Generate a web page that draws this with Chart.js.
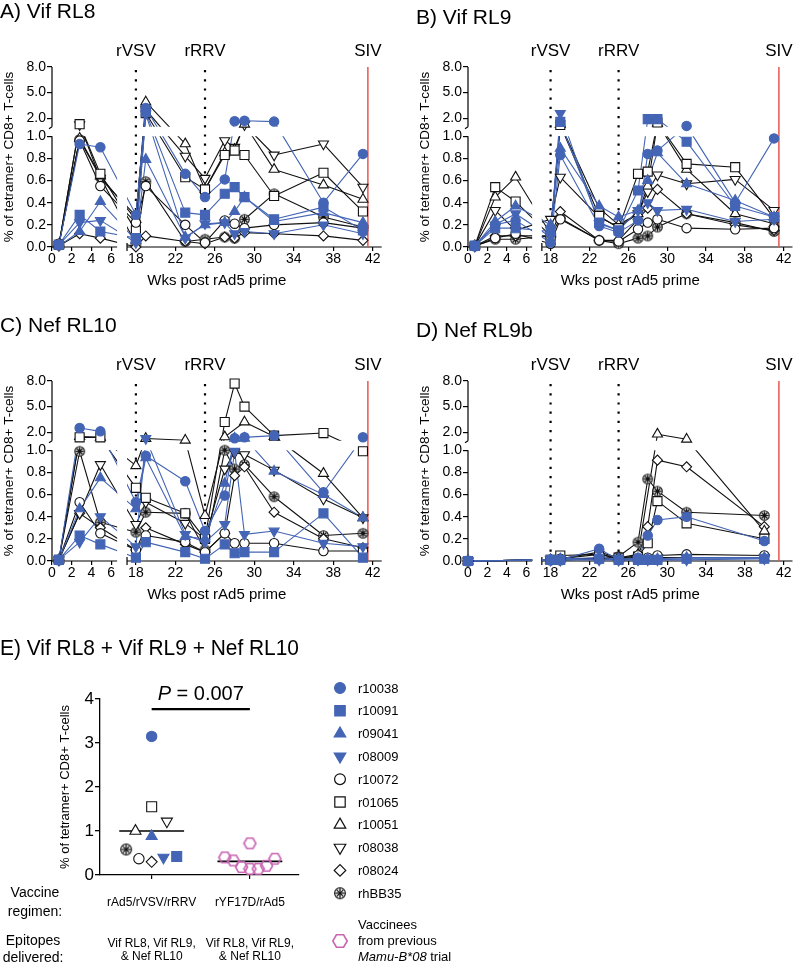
<!DOCTYPE html>
<html><head><meta charset="utf-8">
<script src="https://cdn.jsdelivr.net/npm/chart.js@4.4.1/dist/chart.umd.min.js"></script>
<style>
html,body{margin:0;padding:0;background:#fff;width:800px;height:967px;overflow:hidden;position:relative}
canvas{position:absolute}
</style></head><body>
<canvas id="cA" width="400" height="300" style="left:0;top:0"></canvas>
<canvas id="cB" width="384" height="300" style="left:416px;top:0"></canvas>
<canvas id="cC" width="400" height="300" style="left:0;top:314px"></canvas>
<canvas id="cD" width="384" height="300" style="left:416px;top:314px"></canvas>
<canvas id="cE" width="800" height="352" style="left:0;top:615px"></canvas>
<script>
// ================= DATA =================
const animals = ['r10038','r10091','r09041','r08009','r10072','r01065','r10051','r08038','r08024','rhBB35'];
const weeksABC = [0.7, 2.8, 4.9, 18, 19, 23, 25, 27, 28, 29, 32, 37, 41];
const weeksD   = [0, 18, 19, 23, 25, 27, 28, 29, 32, 40];
const xTickWeeks = [0, 2, 4, 6, 18, 22, 26, 30, 34, 38, 42];
const yTickVals  = [0, 0.2, 0.4, 0.6, 0.8, 1.0, 2.0, 5.0, 8.0];
const eventLabels = ['rVSV', 'rRRV', 'SIV'];
const eventWeeks  = [18, 25, 41.5];

// rows follow the order of "animals"
const vifRL8 = [
  [0.02, 0.93, 0.90, 0.29, 3.2, 0.66, 0.45, 0.61, 1.65, 1.7, 1.6, 0.40, 0.84],
  [0.02, 0.29, 0.14, 0.08, 2.7, 0.31, 0.29, 0.48, 0.54, 0.45, 0.25, 0.36, 0.15],
  [0.01, 0.14, 0.41, 0.06, 0.79, 0.09, 0.20, 0.22, 0.32, 0.45, 0.23, 0.31, 0.22],
  [0.02, 0.22, 0.24, 0.04, 2.5, 0.08, 0.21, 0.22, 0.12, 0.14, 0.12, 0.20, 0.12],
  [0.03, 0.96, 0.55, 0.22, 0.55, 0.20, 0.04, 0.24, 0.21, 0.17, 0.20, 0.22, 0.17],
  [0.02, 1.3, 0.66, 0.15, 2.6, 0.63, 0.52, 0.83, 0.87, 0.83, 0.46, 0.67, 0.32],
  [0.02, 0.98, 0.64, 0.25, 3.9, 0.93, 0.52, 0.85, 0.88, 1.3, 0.70, 0.56, 0.43],
  [0.02, 1.25, 0.62, 0.28, 3.0, 0.82, 0.62, 0.96, 0.90, 1.25, 0.83, 0.93, 0.54],
  [0.01, 0.12, 0.08, 0.00, 0.10, 0.05, 0.03, 0.09, 0.08, 0.13, 0.12, 0.10, 0.06],
  [0.02, 0.97, 0.63, 0.03, 0.59, 0.05, 0.07, 0.09, 0.08, 0.25, 0.48, 0.27, 0.18]
];
const vifRL9 = [
  [0.01, 0.20, 0.24, 0.04, 0.83, 0.19, 0.13, 0.24, 0.84, 0.87, 1.1, 0.40, 0.98],
  [0.01, 0.17, 0.17, 0.14, 1.57, 0.22, 0.15, 0.51, 1.9, 1.9, 0.95, 0.37, 0.27],
  [0.01, 0.23, 0.37, 0.20, 0.89, 0.37, 0.27, 0.33, 0.60, 0.85, 0.57, 0.42, 0.27],
  [0.01, 0.20, 0.30, 0.09, 2.56, 0.21, 0.15, 0.33, 0.40, 0.33, 0.34, 0.23, 0.25],
  [0.01, 0.08, 0.12, 0.03, 0.25, 0.06, 0.05, 0.16, 0.22, 0.25, 0.17, 0.16, 0.17],
  [0.01, 0.54, 0.41, 0.10, 1.2, 0.28, 0.17, 0.66, 0.68, 1.5, 0.75, 0.72, 0.26],
  [0.01, 0.45, 0.63, 0.12, 1.3, 0.35, 0.20, 0.30, 0.55, 1.4, 0.70, 0.30, 0.21],
  [0.01, 0.33, 0.15, 0.25, 0.63, 0.27, 0.18, 0.30, 0.50, 0.65, 0.57, 0.61, 0.33],
  [0.01, 0.10, 0.10, 0.10, 0.32, 0.06, 0.06, 0.25, 0.35, 0.52, 0.30, 0.20, 0.15],
  [0.01, 0.07, 0.07, 0.10, 0.26, 0.06, 0.03, 0.08, 0.10, 0.18, 0.30, 0.22, 0.14]
];
const nefRL10 = [
  [0.01, 2.5, 2.1, 0.53, 0.95, 0.72, 0.27, 0.59, 1.3, 1.4, 1.6, 0.62, 1.4],
  [0.01, 0.23, 0.15, 0.03, 0.17, 0.08, 0.02, 0.15, 0.07, 0.08, 0.08, 0.43, 0.03],
  [0.01, 0.47, 0.75, 0.47, 0.93, 0.22, 0.20, 0.70, 1.3, 1.3, 0.81, 0.60, 0.39],
  [0.01, 0.17, 0.40, 0.13, 1.26, 0.24, 0.17, 0.33, 0.99, 0.24, 0.27, 0.16, 0.13],
  [0.01, 0.53, 0.25, 0.10, 0.23, 0.17, 0.08, 0.25, 0.16, 0.16, 0.16, 0.09, 0.09],
  [0.01, 1.4, 1.4, 0.66, 0.57, 0.43, 0.20, 3.2, 7.7, 5.0, 1.6, 1.9, 0.99],
  [0.01, 1.5, 1.4, 0.86, 1.26, 1.06, 0.41, 1.45, null, 3.2, 1.5, 0.79, 0.39],
  [0.01, 0.43, 0.87, 0.33, 0.53, 0.34, 0.20, 0.83, 0.98, 0.96, 0.82, 0.56, 0.39],
  [0.01, 0.43, 0.30, 0.10, 0.30, 0.15, 0.08, 0.25, 0.77, 0.85, 0.44, 0.20, 0.12],
  [0.01, 0.99, 0.35, 0.26, 0.44, 0.43, 0.10, 1.0, 0.83, 0.87, 0.58, 0.23, 0.25]
];
const nefRL9b = [
  [0, 0.01, 0.01, 0.11, 0.01, 0.03, 0.23, 0.37, 0.40, 0.18],
  [0, 0.01, 0.01, 0.02, 0.01, 0.01, 0.01, 0.01, 0.02, 0.02],
  [0, 0.01, 0.02, 0.03, 0.02, 0.02, 0.02, 0.02, 0.03, 0.03],
  [0, 0.01, 0.01, 0.01, 0.01, 0.01, 0.01, 0.01, 0.01, 0.02],
  [0, 0.01, 0.02, 0.06, 0.02, 0.05, 0.03, 0.05, 0.06, 0.05],
  [0, 0.01, 0.05, 0.06, 0.03, 0.04, 0.16, 0.54, 0.34, 0.20],
  [0, 0.01, 0.02, 0.08, 0.03, 0.06, null, 1.77, 1.18, 0.27],
  [0, 0.01, 0.01, 0.02, 0.01, 0.02, 0.02, 0.03, 0.03, 0.03],
  [0, 0.01, 0.01, 0.03, 0.01, 0.04, 0.31, 0.91, 0.85, 0.31],
  [0, 0.01, 0.01, 0.02, 0.04, 0.17, 0.74, 0.63, 0.44, 0.41]
];

// Panel E
const regimenLabels = ['rAd5/rVSV/rRRV', 'rYF17D/rAd5'];
const epitopeLabels = [['Vif RL8, Vif RL9,', '& Nef RL10'], ['Vif RL8, Vif RL9,', '& Nef RL10']];
const combinedVals   = [3.15, 0.42, 0.88, 0.40, 0.37, 1.55, 1.00, 1.22, 0.30, 0.58];
const combinedJitter = [0, 0.255, 0, 0.12, -0.13, 0, -0.165, 0.155, 0, -0.26];
const priorVals   = [0.40, 0.33, 0.18, 0.72, 0.14, 0.14, 0.21, 0.37];
const priorJitter = [-0.255, -0.17, -0.085, 0, 0, 0.085, 0.17, 0.255];
const groupMedians = [1.0, 0.31];
const pValueText = '0.007';

// ================= STYLE / HELPERS =================
const FONT = "'Liberation Sans', Arial, Helvetica, sans-serif";
Chart.defaults.font.family = FONT;
Chart.defaults.color = '#000';
const BLUE = '#4465b5';
const HEXC = '#c865b3';
const shapes = ['circle','rect','triangle','invtri','circle','rect','triangle','invtri','diamond','star'];
const colorOf = i => i < 4 ? BLUE : '#111';

// broken-axis virtual coordinates
const X_SEG1_END = 6.6, X_SEG2_START = 7.6, X_MAX = 33.4;
const Y_SEG2_START = 1.085, Y_UP = 0.077;
function xv(w){ return w < 12 ? w : w - 9.5; }
function yv(v){ return v <= 1 ? v : Y_SEG2_START + (v - 1) * Y_UP; }
const Y_MAX = yv(8);

function makeStar(r){
  const s = Math.ceil(2*r + 3), c = document.createElement('canvas'); c.width = s; c.height = s;
  const g = c.getContext('2d'), m = s/2;
  g.lineWidth = 1.1; g.strokeStyle = '#111'; g.fillStyle = '#fff';
  g.beginPath(); g.arc(m, m, r, 0, Math.PI*2); g.fill(); g.stroke();
  g.lineWidth = 1.3;
  for (let k = 0; k < 4; k++) { const a = k*Math.PI/4; g.beginPath();
    g.moveTo(m - (r-0.6)*Math.cos(a), m - (r-0.6)*Math.sin(a)); g.lineTo(m + (r-0.6)*Math.cos(a), m + (r-0.6)*Math.sin(a)); g.stroke(); }
  return c;
}
function makeHex(r){
  const w = Math.ceil(2*r + 3), h = Math.ceil(2*r*0.87 + 3), c = document.createElement('canvas'); c.width = w; c.height = h;
  const g = c.getContext('2d'); g.strokeStyle = HEXC; g.lineWidth = 1.6;
  g.beginPath();
  for (let k = 0; k < 6; k++) { const a = k*Math.PI/3; const px = w/2 + r*Math.cos(a), py = h/2 + r*Math.sin(a);
    k ? g.lineTo(px, py) : g.moveTo(px, py); }
  g.closePath(); g.stroke();
  return c;
}
const starSmall = makeStar(4.8), starBig = makeStar(5.4);
const hexSmall = makeHex(6), hexBig = makeHex(7.2);

function pointOpts(i, k){
  k = k || 1;
  const col = colorOf(i), fill = i < 4 ? col : '#fff';
  const o = {pointBackgroundColor: fill, pointBorderColor: col, pointBorderWidth: 1.1, pointRotation: 0, pointHoverRadius: 0};
  switch (shapes[i]) {
    case 'circle':  return Object.assign(o, {pointStyle: 'circle', pointRadius: 4.7*k});
    case 'rect':    return Object.assign(o, {pointStyle: 'rect', pointRadius: 6.4*k});
    case 'triangle':return Object.assign(o, {pointStyle: 'triangle', pointRadius: 5.8*k});
    case 'invtri':  return Object.assign(o, {pointStyle: 'triangle', pointRadius: 5.8*k, pointRotation: 180});
    case 'diamond': return Object.assign(o, {pointStyle: 'rectRot', pointRadius: 5*k});
    default:        return Object.assign(o, {pointStyle: k > 1 ? starBig : starSmall, pointRadius: 5});
  }
}

function line(ctx, x1, y1, x2, y2){ ctx.beginPath(); ctx.moveTo(x1, y1); ctx.lineTo(x2, y2); ctx.stroke(); }

const panelPlugin = {
  id: 'panelDeco',
  beforeDatasetsDraw(chart){
    const {x, y} = chart.scales, ctx = chart.ctx, L = chart.chartArea.left, B = chart.chartArea.bottom;
    ctx.save(); ctx.strokeStyle = '#000'; ctx.lineWidth = 1.2;
    const y1 = y.getPixelForValue(1), y2 = y.getPixelForValue(Y_SEG2_START);
    line(ctx, L, B + 0.6, L, y1);
    line(ctx, L, y2, L, y.top);
    line(ctx, L, y2, L - 3, y2 + 2);
    const x1 = x.getPixelForValue(X_SEG1_END), x2 = x.getPixelForValue(X_SEG2_START);
    line(ctx, L - 0.6, B, x1, B);
    line(ctx, x2, B, x.right, B);
    line(ctx, x2, B - 4, x2, B + 4);
    ctx.restore();
  },
  beforeDatasetDraw(chart, args){
    const ds = chart.data.datasets[args.index];
    if (ds.kind !== 'trace') return;
    const {x, y} = chart.scales, ctx = chart.ctx;
    ctx.save(); ctx.beginPath();
    const xr = [[x.getPixelForValue(0) - 1, x.getPixelForValue(X_SEG1_END)], [x.getPixelForValue(X_SEG2_START), x.right + 1]];
    const yr = [[y.getPixelForValue(1), y.bottom + 2], [y.top - 2, y.getPixelForValue(Y_SEG2_START)]];
    xr.forEach(([l, r]) => yr.forEach(([t, b]) => ctx.rect(l, t, r - l, b - t)));
    ctx.clip();
  },
  afterDatasetDraw(chart, args){
    const ds = chart.data.datasets[args.index];
    if (ds.kind === 'trace') chart.ctx.restore();
  },
  afterDraw(chart){
    const {x} = chart.scales, ctx = chart.ctx;
    ctx.save(); ctx.fillStyle = '#000'; ctx.font = '17px ' + FONT; ctx.textAlign = 'center'; ctx.textBaseline = 'alphabetic';
    eventLabels.forEach((lab, k) => ctx.fillText(lab, x.getPixelForValue(xv(eventWeeks[k])), chart.chartArea.top - 11));
    ctx.restore();
  }
};

function makePanel(id, title, titleTop, weeks, series, width){
  const datasets = [];
  eventWeeks.forEach((w, k) => {
    const red = k === 2;
    datasets.push({kind: 'event', data: [{x: xv(w), y: 0}, {x: xv(w), y: Y_MAX}],
      borderColor: red ? '#e8574f' : '#000', borderWidth: red ? 1.5 : 2.2, borderDash: red ? [] : [2.2, 7],
      pointRadius: 0, order: 5, clip: false});
  });
  series.forEach((vals, i) => {
    const pts = weeks.map((w, k) => ({x: xv(w), y: vals[k] == null ? null : yv(vals[k])}));
    datasets.push({kind: 'trace', data: pts, borderColor: colorOf(i), borderWidth: 1.1, borderJoinStyle: 'round',
      pointRadius: 0, spanGaps: true, order: 3, clip: false});
    datasets.push(Object.assign({kind: 'marker', data: pts, showLine: false, order: 1, clip: false}, pointOpts(i)));
  });
  new Chart(document.getElementById(id), {
    type: 'line',
    data: {datasets},
    options: {
      responsive: false, animation: false, devicePixelRatio: 1, events: [],
      layout: {padding: {left: 0, top: 0, bottom: 0, right: width - 381.7}},
      plugins: {
        legend: {display: false}, tooltip: {enabled: false},
        title: {display: true, text: title, align: 'start', color: '#000',
          font: {size: 21, weight: 'normal', family: FONT, lineHeight: 1.2},
          padding: {top: titleTop, bottom: 67 - 25.2 - titleTop}}
      },
      scales: {
        x: {
          type: 'linear', min: 0, max: X_MAX,
          afterBuildTicks: s => { s.ticks = xTickWeeks.map(w => ({value: xv(w)})); },
          afterFit: s => { s.height = 53; },
          ticks: {autoSkip: false, maxRotation: 0, minRotation: 0, padding: 0, font: {size: 14}, color: '#000',
            callback: (v, i) => String(xTickWeeks[i])},
          grid: {display: true, drawOnChartArea: false, drawTicks: true, tickLength: 4, color: '#000', lineWidth: 1.2},
          border: {display: false},
          title: {display: true, text: 'Wks post rAd5 prime', font: {size: 15}, color: '#000', padding: {top: 0, bottom: 10}}
        },
        y: {
          type: 'linear', min: 0, max: Y_MAX,
          afterBuildTicks: s => { s.ticks = yTickVals.map(v => ({value: yv(v)})); },
          afterFit: s => { s.width = 52; },
          ticks: {autoSkip: false, padding: 1, font: {size: 14}, color: '#000',
            callback: (v, i) => yTickVals[i].toFixed(1)},
          grid: {display: true, drawOnChartArea: false, drawTicks: true, tickLength: 5, color: '#000', lineWidth: 1.2},
          border: {display: false},
          title: {display: true, text: '% of tetramer+ CD8+ T-cells', font: {size: 13.5}, color: '#000', padding: {top: 1, bottom: 0}}
        }
      }
    },
    plugins: [panelPlugin]
  });
}

makePanel('cA', 'A) Vif RL8', 0, weeksABC, vifRL8, 400);
makePanel('cB', 'B) Vif RL9', 6, weeksABC, vifRL9, 384);
makePanel('cC', 'C) Nef RL10', 0, weeksABC, nefRL10, 400);
makePanel('cD', 'D) Nef RL9b', 5, weeksD, nefRL9b, 384);

// ================= PANEL E =================
const MEDIAN_HALF = 0.33, P_BAR_Y = 3.77;
const eDatasets = [];
groupMedians.forEach((m, g) => eDatasets.push({kind: 'median', data: [{x: g + 1 - MEDIAN_HALF, y: m}, {x: g + 1 + MEDIAN_HALF, y: m}],
  borderColor: '#000', borderWidth: 1.6, pointRadius: 0, order: 5, clip: false}));
eDatasets.push({kind: 'pbar', data: [{x: 1, y: P_BAR_Y}, {x: 2, y: P_BAR_Y}], borderColor: '#000', borderWidth: 2.2, pointRadius: 0, order: 5, clip: false});
animals.forEach((a, i) => eDatasets.push(Object.assign({label: a, data: [{x: 1 + combinedJitter[i], y: combinedVals[i]}],
  showLine: false, order: 1, clip: false}, pointOpts(i, 1.1))));
eDatasets.push({label: 'prior', data: priorVals.map((v, k) => ({x: 2 + priorJitter[k], y: v})), showLine: false,
  pointStyle: hexSmall, pointRadius: 6, order: 1, clip: false});

function drawLegendMarker(ctx, i, x, y){
  const o = pointOpts(i, 1.15);
  ctx.save();
  ctx.fillStyle = o.pointBackgroundColor; ctx.strokeStyle = o.pointBorderColor; ctx.lineWidth = 1.2;
  const r = o.pointRadius;
  if (typeof o.pointStyle !== 'string') { const im = o.pointStyle; ctx.drawImage(im, x - im.width/2, y - im.height/2); ctx.restore(); return; }
  ctx.beginPath();
  if (o.pointStyle === 'circle') ctx.arc(x, y, r, 0, Math.PI*2);
  else if (o.pointStyle === 'rect') { const s = r * Math.SQRT1_2; ctx.rect(x - s, y - s, 2*s, 2*s); }
  else if (o.pointStyle === 'rectRot') { ctx.moveTo(x - r, y); ctx.lineTo(x, y - r); ctx.lineTo(x + r, y); ctx.lineTo(x, y + r); ctx.closePath(); }
  else { const rot = o.pointRotation * Math.PI / 180; let a = rot;
    for (let k = 0; k < 3; k++) { const px = x + Math.sin(a)*r, py = y - Math.cos(a)*r; k ? ctx.lineTo(px, py) : ctx.moveTo(px, py); a += 2*Math.PI/3; }
    ctx.closePath(); }
  ctx.fill(); ctx.stroke();
  ctx.restore();
}

const ePlugin = {
  id: 'eDeco',
  afterDraw(chart){
    const {x, y} = chart.scales, ctx = chart.ctx;
    ctx.save(); ctx.fillStyle = '#000';
    // P value
    const cx = x.getPixelForValue(1.5), py = y.getPixelForValue(P_BAR_Y) - 15;
    ctx.textBaseline = 'middle';
    ctx.font = 'italic 20px ' + FONT; const wP = ctx.measureText('P').width;
    ctx.font = '20px ' + FONT; const rest = ' = ' + pValueText; const wR = ctx.measureText(rest).width;
    const sx = cx - (wP + wR)/2;
    ctx.textAlign = 'left';
    ctx.font = 'italic 20px ' + FONT; ctx.fillText('P', sx, py);
    ctx.font = '20px ' + FONT; ctx.fillText(rest, sx + wP, py);
    // row labels
    ctx.font = '14px ' + FONT; ctx.textAlign = 'center';
    ctx.fillText('Vaccine', 35, 278); ctx.fillText('regimen:', 35, 297);
    ctx.fillText('Epitopes', 33, 326); ctx.fillText('delivered:', 33, 343);
    // legend
    ctx.font = '13px ' + FONT; ctx.textAlign = 'left';
    animals.forEach((a, i) => { const ly = 73 + i * 22.8; drawLegendMarker(ctx, i, 340, ly); ctx.fillText(a, 358, ly + 1); });
    ctx.drawImage(hexBig, 340 - hexBig.width/2, 326 - hexBig.height/2);
    ctx.fillText('Vaccinees', 358, 310); ctx.fillText('from previous', 358, 326);
    ctx.font = 'italic 13px ' + FONT; const wM = ctx.measureText('Mamu-B*08').width;
    ctx.fillText('Mamu-B*08', 358, 342);
    ctx.font = '13px ' + FONT; ctx.fillText(' trial', 358 + wM, 342);
    ctx.restore();
  }
};

new Chart(document.getElementById('cE'), {
  type: 'line',
  data: {datasets: eDatasets},
  options: {
    responsive: false, animation: false, devicePixelRatio: 1, events: [],
    layout: {padding: {left: 0, top: 0, bottom: 0, right: 800 - 299}},
    plugins: {
      legend: {display: false}, tooltip: {enabled: false},
      title: {display: true, text: 'E) Vif RL8 + Vif RL9 + Nef RL10', align: 'start', color: '#000',
        font: {size: 22, weight: 'normal', family: FONT, lineHeight: 1.2}, padding: {top: 21, bottom: 84 - 26.4 - 21}}
    },
    scales: {
      x: {
        type: 'linear', min: 0.474, max: 2.5,
        afterBuildTicks: s => { s.ticks = [{value: 1}, {value: 2}]; },
        afterFit: s => { s.height = 92; },
        ticks: {autoSkip: false, maxRotation: 0, minRotation: 0, padding: 17, color: '#000',
          font: {size: 12, lineHeight: 1.125},
          callback: (v, i) => [regimenLabels[i], '', ''].concat(epitopeLabels[i])},
        grid: {display: true, drawOnChartArea: false, drawTicks: true, tickLength: 4, color: '#000', lineWidth: 1.2},
        border: {display: true, color: '#000', width: 1.3}
      },
      y: {
        type: 'linear', min: 0, max: 4,
        afterFit: s => { s.width = 100; },
        ticks: {stepSize: 1, padding: 1, font: {size: 17}, color: '#000'},
        grid: {display: true, drawOnChartArea: false, drawTicks: true, tickLength: 5, color: '#000', lineWidth: 1.3},
        border: {display: true, color: '#000', width: 1.3},
        title: {display: true, text: '% of tetramer+ CD8+ T-cells', font: {size: 13}, color: '#000', padding: {top: 58, bottom: 0}}
      }
    }
  },
  plugins: [ePlugin]
});
</script></body></html>
